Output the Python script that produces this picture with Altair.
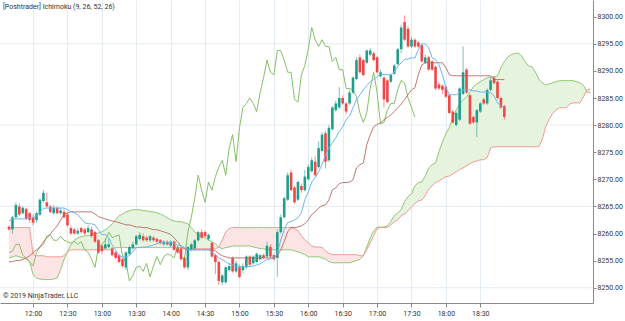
import altair as alt
import numpy as np
import pandas as pd

TITLE = "[Poshtrader] Ichimoku (9, 26, 52, 26)"
COPYRIGHT = "\u00a9 2019 NinjaTrader, LLC"
SESSION_DATE = "2019-01-02"
FIRST_BAR = "11:39"
BAR_MINUTES = 3
DISPLACEMENT = 26

OPEN = [
    8261.25, 8260.75, 8263.0, 8265.0, 8263.75, 8264.5, 8263.75, 8263.0, 8262.5, 8263.5,
    8266.0, 8265.75, 8265.0, 8263.75, 8264.75, 8263.75, 8264.0, 8263.5, 8261.0, 8260.75,
    8260.0, 8261.0, 8260.75, 8260.25, 8260.75, 8260.25, 8258.75, 8257.75, 8257.25, 8257.5,
    8257.25, 8256.5, 8256.0, 8255.25, 8253.75, 8256.25, 8257.25, 8258.0, 8259.0, 8259.5,
    8259.25, 8258.75, 8259.25, 8259.0, 8258.75, 8258.0, 8258.5, 8257.75, 8258.5, 8257.25,
    8257.25, 8255.5, 8253.75, 8257.0, 8257.25, 8258.75, 8260.25, 8260.25, 8259.0, 8258.25,
    8256.0, 8254.75, 8251.0, 8251.0, 8253.25, 8255.5, 8253.0, 8253.75, 8253.25, 8253.75,
    8255.75, 8254.5, 8254.75, 8255.25, 8256.0, 8255.75, 8257.5, 8256.0, 8255.5, 8260.25,
    8263.0, 8266.25, 8271.25, 8268.5, 8266.25, 8268.75, 8268.0, 8270.0, 8271.5, 8273.25,
    8272.25, 8275.25, 8278.5, 8273.5, 8279.25, 8282.75, 8283.25, 8285.0, 8284.0, 8284.0,
    8286.0, 8288.5, 8292.5, 8292.0, 8291.5, 8293.0, 8293.25, 8292.5, 8289.0, 8288.75,
    8288.25, 8288.0, 8289.5, 8291.25, 8294.0, 8299.0, 8297.75, 8294.5, 8295.75, 8295.25,
    8294.75, 8291.5, 8292.5, 8291.75, 8290.75, 8287.5, 8287.25, 8287.0, 8285.5, 8282.5,
    8280.0, 8281.0, 8285.75, 8290.25, 8285.5, 8281.5, 8280.5, 8282.5, 8284.75, 8284.0,
    8286.5, 8288.75, 8288.0, 8285.0, 8283.5,
]
HIGH = [
    8261.5, 8263.25, 8265.75, 8265.5, 8265.0, 8264.75, 8264.0, 8263.5, 8264.0, 8266.5,
    8268.0, 8267.5, 8265.25, 8265.25, 8265.0, 8264.75, 8264.5, 8263.75, 8261.5, 8261.0,
    8261.0, 8261.25, 8261.0, 8261.5, 8261.25, 8260.5, 8259.0, 8258.0, 8259.0, 8259.0,
    8257.5, 8256.75, 8256.25, 8255.5, 8256.75, 8257.75, 8258.5, 8259.75, 8260.25, 8260.0,
    8259.5, 8259.75, 8259.5, 8259.25, 8259.0, 8258.75, 8258.75, 8258.75, 8258.75, 8257.5,
    8257.5, 8255.75, 8257.75, 8258.25, 8259.0, 8260.5, 8260.75, 8260.5, 8260.0, 8258.5,
    8256.25, 8255.0, 8252.5, 8254.0, 8254.5, 8255.75, 8255.0, 8254.25, 8254.5, 8256.0,
    8256.0, 8256.0, 8256.5, 8256.25, 8256.25, 8258.5, 8258.0, 8256.25, 8260.75, 8263.5,
    8266.75, 8271.25, 8271.75, 8268.75, 8269.75, 8269.25, 8271.75, 8272.75, 8274.0, 8274.25,
    8277.0, 8278.75, 8279.0, 8280.0, 8283.5, 8284.5, 8287.0, 8285.5, 8284.25, 8286.5,
    8289.0, 8292.5, 8293.0, 8292.25, 8294.0, 8294.25, 8293.5, 8292.75, 8290.25, 8289.0,
    8288.5, 8289.5, 8291.25, 8294.25, 8298.5, 8300.25, 8298.25, 8296.25, 8296.0, 8295.5,
    8295.0, 8293.0, 8292.75, 8292.0, 8291.0, 8288.0, 8287.5, 8287.25, 8285.75, 8282.75,
    8282.5, 8287.0, 8294.5, 8290.5, 8285.75, 8281.75, 8283.0, 8284.25, 8285.0, 8286.75,
    8288.75, 8289.0, 8288.25, 8285.25, 8283.75,
]
LOW = [
    8260.5, 8260.0, 8262.75, 8263.25, 8263.5, 8262.5, 8262.0, 8261.5, 8262.0, 8263.25,
    8265.75, 8264.75, 8263.75, 8263.5, 8263.5, 8263.5, 8262.75, 8261.25, 8259.75, 8259.75,
    8259.75, 8260.0, 8259.75, 8260.0, 8259.25, 8258.25, 8256.25, 8256.25, 8257.0, 8257.25,
    8255.75, 8255.25, 8254.5, 8253.75, 8253.25, 8256.0, 8257.0, 8257.75, 8258.75, 8258.5,
    8258.5, 8258.5, 8258.5, 8258.25, 8258.0, 8257.75, 8257.75, 8257.5, 8256.75, 8256.25,
    8255.0, 8253.5, 8253.25, 8256.75, 8257.0, 8258.5, 8259.0, 8259.25, 8258.75, 8255.5,
    8252.5, 8250.5, 8250.5, 8250.75, 8253.0, 8252.75, 8252.75, 8251.75, 8252.75, 8253.5,
    8254.0, 8254.25, 8254.5, 8255.0, 8255.25, 8255.5, 8255.5, 8255.0, 8252.0, 8260.0,
    8262.75, 8266.0, 8267.75, 8265.5, 8266.0, 8267.5, 8267.75, 8269.75, 8271.25, 8270.5,
    8272.0, 8275.0, 8272.0, 8273.25, 8279.0, 8282.5, 8283.0, 8283.75, 8282.0, 8283.75,
    8285.75, 8288.25, 8289.5, 8289.0, 8291.25, 8292.75, 8291.75, 8289.5, 8288.75, 8283.25,
    8284.0, 8287.75, 8289.25, 8291.0, 8293.25, 8295.5, 8294.25, 8294.25, 8294.25, 8294.25,
    8291.5, 8291.25, 8290.0, 8290.0, 8286.5, 8286.5, 8285.75, 8285.0, 8282.0, 8280.25,
    8279.75, 8280.75, 8285.5, 8285.75, 8280.0, 8280.25, 8277.75, 8282.25, 8283.75, 8283.75,
    8286.25, 8287.5, 8284.75, 8283.0, 8281.0,
]
CLOSE = [
    8260.75, 8263.0, 8265.25, 8263.5, 8264.75, 8262.75, 8262.5, 8262.0, 8263.75, 8266.25,
    8267.5, 8265.0, 8264.0, 8264.75, 8263.75, 8264.25, 8263.0, 8261.5, 8260.0, 8260.0,
    8260.5, 8260.25, 8260.0, 8261.0, 8259.5, 8258.5, 8256.5, 8256.75, 8258.0, 8258.0,
    8256.0, 8255.5, 8254.75, 8254.0, 8256.5, 8257.5, 8258.0, 8259.5, 8259.75, 8258.75,
    8258.75, 8259.5, 8258.75, 8258.5, 8258.25, 8258.5, 8258.0, 8258.5, 8257.0, 8256.5,
    8255.25, 8253.75, 8257.5, 8258.0, 8258.75, 8260.25, 8259.25, 8259.5, 8259.75, 8255.75,
    8254.75, 8251.25, 8252.25, 8253.75, 8254.0, 8253.0, 8254.5, 8252.0, 8254.0, 8255.75,
    8254.25, 8255.75, 8256.25, 8256.0, 8255.5, 8257.75, 8255.75, 8255.25, 8260.25, 8263.0,
    8266.5, 8270.75, 8268.0, 8265.75, 8269.5, 8268.0, 8270.5, 8272.25, 8273.5, 8270.75,
    8275.75, 8278.25, 8273.25, 8279.5, 8283.25, 8284.0, 8285.0, 8284.0, 8282.5, 8286.0,
    8288.75, 8292.0, 8289.75, 8289.25, 8293.75, 8293.75, 8292.0, 8289.75, 8289.75, 8284.75,
    8284.25, 8289.25, 8291.0, 8294.0, 8298.0, 8295.75, 8294.5, 8295.75, 8294.5, 8294.5,
    8291.75, 8292.5, 8290.25, 8290.25, 8286.75, 8286.75, 8286.5, 8285.25, 8282.25, 8280.5,
    8282.25, 8286.75, 8289.75, 8286.0, 8280.25, 8280.5, 8282.75, 8284.0, 8284.0, 8286.5,
    8288.25, 8287.75, 8285.0, 8283.25, 8281.5,
]
TENKAN = [
    8262.3, 8262.7, 8262.7, 8262.7, 8262.7, 8262.7, 8262.9, 8262.9, 8263.3, 8264.0,
    8264.6, 8264.7, 8264.7, 8264.7, 8264.7, 8264.7, 8264.7, 8264.4, 8264.0, 8263.8,
    8263.5, 8262.7, 8262.0, 8261.8, 8261.8, 8261.6, 8260.7, 8259.8, 8259.8, 8259.2,
    8257.9, 8257.0, 8255.9, 8255.7, 8255.7, 8255.9, 8256.6, 8257.4, 8257.4, 8257.5,
    8257.5, 8257.7, 8257.9, 8258.1, 8258.3, 8258.3, 8258.3, 8258.3, 8258.1, 8257.9,
    8257.7, 8257.4, 8257.0, 8257.0, 8257.0, 8257.0, 8257.0, 8257.0, 8257.0, 8256.6,
    8256.1, 8255.5, 8255.2, 8254.8, 8254.4, 8254.2, 8254.0, 8253.9, 8253.9, 8253.9,
    8253.9, 8254.0, 8254.2, 8254.4, 8254.8, 8255.2, 8255.3, 8255.5, 8256.3, 8258.8,
    8260.7, 8262.0, 8262.2, 8262.5, 8262.9, 8263.8, 8266.2, 8267.7, 8269.5, 8270.3,
    8271.4, 8272.7, 8274.5, 8275.8, 8276.7, 8277.7, 8278.8, 8279.7, 8281.0, 8281.7,
    8283.2, 8284.7, 8285.6, 8286.5, 8287.3, 8288.0, 8288.4, 8288.9, 8289.5, 8289.3,
    8289.3, 8289.3, 8289.8, 8290.8, 8291.5, 8292.1, 8292.2, 8292.4, 8292.4, 8293.9,
    8295.0, 8295.0, 8294.3, 8292.4, 8292.1, 8291.1, 8289.3, 8286.9, 8285.6, 8285.6,
    8285.6, 8286.1, 8286.5, 8286.5, 8286.5, 8286.3, 8286.3, 8286.1, 8286.1, 8286.1,
    8286.0, 8285.4, 8284.1, 8283.6, 8283.2,
]
KIJUN = [
    8254.8, 8254.8, 8255.0, 8255.0, 8255.2, 8255.5, 8255.9, 8256.4, 8257.0, 8257.5,
    8258.5, 8259.2, 8259.9, 8260.7, 8261.4, 8262.5, 8263.5, 8263.8, 8264.0, 8264.0,
    8264.0, 8264.0, 8264.0, 8264.0, 8264.0, 8263.6, 8263.1, 8262.9, 8262.7, 8262.5,
    8262.3, 8262.2, 8262.0, 8261.8, 8261.6, 8261.6, 8261.4, 8261.2, 8261.2, 8261.1,
    8261.1, 8260.9, 8260.7, 8260.7, 8260.5, 8260.3, 8260.1, 8259.8, 8259.2, 8258.5,
    8257.7, 8257.2, 8257.0, 8257.0, 8257.0, 8257.0, 8257.0, 8257.0, 8257.0, 8257.0,
    8256.8, 8256.3, 8255.9, 8255.7, 8255.5, 8255.5, 8255.5, 8255.5, 8255.5, 8255.5,
    8255.5, 8255.5, 8255.5, 8255.5, 8255.5, 8255.5, 8255.5, 8255.5, 8255.9, 8257.0,
    8258.5, 8260.3, 8261.1, 8261.1, 8261.2, 8261.4, 8261.8, 8262.5, 8263.5, 8264.0,
    8264.7, 8265.1, 8265.3, 8266.2, 8268.1, 8268.4, 8269.2, 8269.4, 8269.4, 8269.5,
    8269.9, 8272.1, 8272.7, 8273.0, 8276.4, 8278.2, 8279.7, 8280.1, 8280.4, 8281.0,
    8281.4, 8281.9, 8282.5, 8283.2, 8283.9, 8284.7, 8285.6, 8286.5, 8286.9, 8289.3,
    8291.1, 8291.5, 8291.5, 8291.5, 8291.5, 8291.5, 8291.5, 8290.6, 8289.3, 8289.1,
    8289.1, 8289.1, 8289.1, 8289.1, 8289.1, 8289.1, 8289.1, 8289.1, 8289.1, 8289.1,
    8289.1, 8288.4, 8288.4, 8288.4, 8288.4,
]
SENKOU_A = [
    8255.5, 8255.7, 8255.9, 8255.7, 8255.5, 8255.3, 8254.8, 8252.4, 8251.8, 8251.6,
    8251.5, 8251.5, 8251.5, 8251.6, 8251.8, 8253.3, 8255.2, 8256.6, 8257.9, 8258.8,
    8259.2, 8259.4, 8259.6, 8259.6, 8259.8, 8259.9, 8260.1, 8260.3, 8260.7, 8261.1,
    8261.8, 8262.5, 8263.3, 8263.6, 8264.0, 8264.2, 8264.4, 8264.4, 8264.4, 8264.2,
    8264.2, 8264.0, 8264.0, 8263.8, 8263.6, 8263.3, 8262.9, 8262.5, 8262.3, 8262.2,
    8262.2, 8262.0, 8261.8, 8261.1, 8260.3, 8259.8, 8259.4, 8259.2, 8258.8, 8258.5,
    8258.1, 8257.5, 8257.2, 8257.4, 8257.5, 8257.7, 8257.7, 8257.7, 8257.7, 8257.7,
    8257.7, 8257.5, 8257.4, 8257.2, 8257.2, 8257.0, 8257.0, 8257.0, 8257.0, 8257.0,
    8257.0, 8257.0, 8257.0, 8256.8, 8256.6, 8256.4, 8256.1, 8255.7, 8255.7, 8255.7,
    8255.7, 8255.5, 8255.3, 8254.8, 8254.6, 8254.6, 8254.6, 8254.6, 8254.6, 8254.6,
    8254.8, 8255.0, 8255.2, 8255.9, 8257.5, 8259.2, 8260.5, 8261.2, 8261.2, 8261.2,
    8261.4, 8262.2, 8263.3, 8263.8, 8264.4, 8265.9, 8266.8, 8267.3, 8268.8, 8269.4,
    8269.5, 8270.6, 8272.1, 8272.7, 8273.0, 8275.1, 8276.9, 8278.4, 8279.5, 8281.4,
    8282.8, 8283.9, 8284.7, 8285.2, 8286.1, 8287.1, 8287.6, 8288.0, 8288.4, 8288.7,
    8288.9, 8288.9, 8289.1, 8290.6, 8291.7, 8292.6, 8293.0, 8293.2, 8293.3, 8292.8,
    8291.7, 8290.9, 8290.8, 8289.8, 8288.5, 8287.8, 8287.4, 8287.6, 8287.8, 8288.0,
    8288.2, 8288.2, 8288.2, 8288.2, 8288.2, 8288.0, 8287.8, 8287.3, 8286.1, 8286.0,
]
SENKOU_B = [
    8261.1, 8261.1, 8261.1, 8261.1, 8261.1, 8261.1, 8261.1, 8256.1, 8255.9, 8255.9,
    8255.9, 8255.7, 8255.7, 8255.7, 8255.7, 8255.7, 8255.9, 8256.6, 8257.0, 8257.0,
    8257.0, 8257.0, 8257.0, 8257.0, 8257.0, 8257.0, 8257.0, 8257.0, 8257.0, 8257.0,
    8257.0, 8257.4, 8257.4, 8257.4, 8257.4, 8257.4, 8257.4, 8257.4, 8257.4, 8257.4,
    8257.4, 8257.4, 8257.4, 8257.4, 8257.4, 8257.4, 8257.4, 8257.4, 8257.4, 8257.4,
    8257.4, 8257.2, 8257.2, 8257.2, 8257.2, 8257.2, 8257.2, 8257.2, 8257.2, 8257.2,
    8257.2, 8257.5, 8258.8, 8260.3, 8260.9, 8261.1, 8261.1, 8261.1, 8261.1, 8261.1,
    8261.1, 8261.1, 8261.1, 8261.1, 8261.1, 8261.1, 8261.1, 8261.1, 8261.1, 8261.1,
    8261.1, 8261.1, 8261.1, 8260.9, 8260.5, 8259.6, 8258.8, 8258.3, 8257.7, 8257.5,
    8257.5, 8257.4, 8256.8, 8256.3, 8256.1, 8256.1, 8256.1, 8256.1, 8256.1, 8256.1,
    8256.1, 8256.1, 8255.9, 8255.9, 8257.0, 8258.3, 8259.6, 8260.9, 8261.1, 8261.1,
    8261.1, 8261.6, 8262.2, 8262.5, 8263.3, 8263.6, 8264.2, 8264.9, 8265.5, 8266.0,
    8266.2, 8267.0, 8268.2, 8268.8, 8269.4, 8269.7, 8270.1, 8270.5, 8270.6, 8271.0,
    8271.4, 8271.8, 8272.1, 8272.5, 8272.9, 8273.2, 8273.4, 8273.6, 8273.6, 8274.0,
    8275.8, 8276.0, 8276.0, 8276.0, 8276.0, 8276.0, 8276.0, 8276.0, 8276.0, 8276.0,
    8276.0, 8276.0, 8276.0, 8276.0, 8276.0, 8277.3, 8279.7, 8281.0, 8282.1, 8282.8,
    8283.2, 8283.2, 8283.2, 8283.9, 8284.1, 8284.1, 8284.1, 8285.2, 8286.5, 8286.7,
]
TIME_LABELS = ["12:00", "12:30", "13:00", "13:30", "14:00", "14:30", "15:00",
               "15:30", "16:00", "16:30", "17:00", "17:30", "18:00", "18:30"]
PRICE_LABELS = [8250, 8255, 8260, 8265, 8270, 8275, 8280, 8285, 8290, 8295, 8300]
PRICE_GRID = [8250, 8265, 8280, 8295]

TEAL = "#1f9e8a"
RED = "#ef4646"
FONT = "Roboto"

n_bars = len(OPEN)
n_cloud = len(SENKOU_A)
times = pd.date_range(f"{SESSION_DATE} {FIRST_BAR}", periods=n_cloud, freq=f"{BAR_MINUTES}min")
iso = list(times.strftime("%Y-%m-%dT%H:%M:%S"))

candles = pd.DataFrame({"t": iso[:n_bars], "open": OPEN, "high": HIGH,
                        "low": LOW, "close": CLOSE})
candles["dir"] = np.where(candles["close"] >= candles["open"], "up", "down")

lines = pd.DataFrame({"t": iso[:n_bars], "tenkan": TENKAN, "kijun": KIJUN})
chikou = pd.DataFrame({"t": iso[:n_bars - DISPLACEMENT], "chikou": CLOSE[DISPLACEMENT:]})
cloud = pd.DataFrame({"t": iso, "a": SENKOU_A, "b": SENKOU_B})
cloud["lo"] = np.minimum(cloud["a"], cloud["b"])


def dt(h, m, s=0):
    return alt.DateTime(year=2019, month=1, date=2, hours=h, minutes=m, seconds=s)


x_scale = alt.Scale(domain=[dt(11, 31, 9), dt(20, 8, 18)], padding=0)
y_scale = alt.Scale(domain=[8247.18, 8303.08], nice=False, zero=False, padding=0)

x_axis = alt.Axis(
    values=[dt(int(s[:2]), int(s[3:])) for s in TIME_LABELS],
    format="%H:%M", title=None, grid=True, gridColor="#e4ecf3", gridWidth=1,
    domainColor="#8a8a8a", tickColor="#8a8a8a", tickSize=4, labelPadding=2,
    labelFont=FONT, labelFontSize=7, labelColor="#333333", labelFlush=False,
)
y_axis = alt.Axis(
    orient="right", values=PRICE_LABELS, format=".2f", title=None, grid=False,
    domainColor="#8a8a8a", tickColor="#8a8a8a", tickSize=3, labelPadding=1,
    labelFont=FONT, labelFontSize=7, labelColor="#333333",
)

X = alt.X("t:T", scale=x_scale, axis=x_axis)


def Y(field):
    return alt.Y(field, type="quantitative", scale=y_scale, axis=y_axis)


grid = alt.Chart(pd.DataFrame({"p": PRICE_GRID})).mark_rule(
    color="#e4ecf3", strokeWidth=1
).encode(y=Y("p"))

cloud_base = alt.Chart(cloud)
green_fill = cloud_base.mark_area(color="#e3f3dc", opacity=0.9).encode(
    x=X, y=Y("a"), y2="lo")
pink_fill = cloud_base.mark_area(color="#fde1e1", opacity=0.9).encode(
    x=X, y=Y("b"), y2="lo")
line_a = cloud_base.mark_line(color="#8fc873", strokeWidth=1).encode(x=X, y=Y("a"))
line_b = cloud_base.mark_line(color="#f29a92", strokeWidth=1).encode(x=X, y=Y("b"))

chikou_line = alt.Chart(chikou).mark_line(color="#86bf68", strokeWidth=1).encode(
    x=X, y=Y("chikou"))

color = alt.Color("dir:N", scale=alt.Scale(domain=["up", "down"], range=[TEAL, RED]),
                  legend=None)
cbase = alt.Chart(candles)
wicks = cbase.mark_rule(strokeWidth=1, opacity=0.6).encode(
    x=X, y=Y("low"), y2="high", color=color)
bodies = cbase.mark_bar(size=2.6).encode(x=X, y=Y("open"), y2="close", color=color)

kijun_line = alt.Chart(lines).mark_line(color="#b5605c", strokeWidth=1, opacity=0.85).encode(
    x=X, y=Y("kijun"))
tenkan_line = alt.Chart(lines).mark_line(color="#6db6f2", strokeWidth=1).encode(
    x=X, y=Y("tenkan"))

title_text = alt.Chart(alt.Data(values=[{"label": TITLE}])).mark_text(
    align="left", baseline="middle", font=FONT, fontSize=7, color="#333333"
).encode(x=alt.value(3), y=alt.value(7), text="label:N")
copy_text = alt.Chart(alt.Data(values=[{"label": COPYRIGHT}])).mark_text(
    align="left", baseline="middle", font=FONT, fontSize=7, color="#333333"
).encode(x=alt.value(3), y=alt.value(295.5), text="label:N")

chart = alt.layer(
    grid, green_fill, pink_fill, line_a, line_b, chikou_line,
    wicks, bodies, kijun_line, tenkan_line, title_text, copy_text,
).properties(
    width=593, height=303,
    autosize=alt.AutoSizeParams(type="none"),
    padding={"left": 0, "top": 0, "right": 32, "bottom": 18},
    background="white",
).configure_view(strokeWidth=0)

chart.save("out.html", embed_options={"renderer": "svg", "actions": False})
